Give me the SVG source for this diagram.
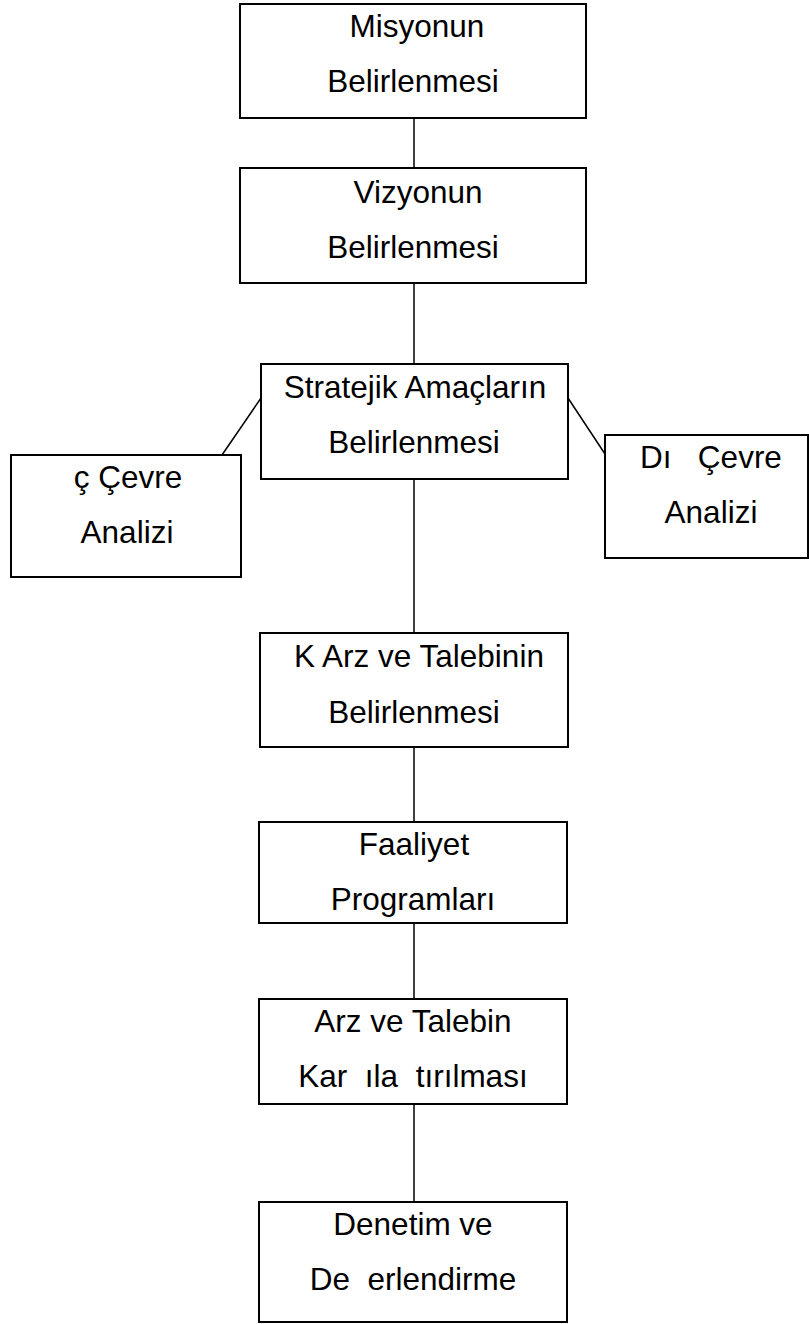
<svg xmlns="http://www.w3.org/2000/svg" width="809" height="1324" viewBox="0 0 809 1324">
<style>
.box{fill:#fff;stroke:#000;stroke-width:2}
.lbl{font-family:"Liberation Sans",Arial,sans-serif;font-size:31.5px;fill:#000;text-anchor:middle;white-space:pre}
.con line{stroke:#000;stroke-width:1.5}
</style>
<rect width="809" height="1324" fill="#fff"/>
<g id="connectors" class="con">
<line x1="414" y1="118" x2="414" y2="168"/>
<line x1="414" y1="283" x2="414" y2="364"/>
<line x1="414" y1="479" x2="414" y2="633"/>
<line x1="414" y1="747" x2="414" y2="822"/>
<line x1="414" y1="923" x2="414" y2="999"/>
<line x1="414" y1="1104" x2="414" y2="1202"/>
<line x1="261" y1="398" x2="222" y2="455"/>
<line x1="568" y1="398" x2="605" y2="454"/>
</g>
<g id="misyon">
<rect class="box" x="240" y="4" width="346" height="114"/>
<text class="lbl" x="417" y="37">Misyonun</text>
<text class="lbl" x="413" y="92">Belirlenmesi</text>
</g>
<g id="vizyon">
<rect class="box" x="240" y="168" width="346" height="115"/>
<text class="lbl" x="418" y="203">Vizyonun</text>
<text class="lbl" x="413" y="258">Belirlenmesi</text>
</g>
<g id="stratejik">
<rect class="box" x="261" y="364" width="307" height="115"/>
<text class="lbl" x="415" y="398">Stratejik Amaçların</text>
<text class="lbl" x="414" y="453">Belirlenmesi</text>
</g>
<g id="ic-cevre">
<rect class="box" x="11" y="455" width="230" height="122"/>
<text class="lbl" x="128" y="488">ç Çevre</text>
<text class="lbl" x="127" y="543">Analizi</text>
</g>
<g id="dis-cevre">
<rect class="box" x="605" y="435" width="203" height="123"/>
<text class="lbl" x="711" y="468">Dı   Çevre</text>
<text class="lbl" x="711" y="523">Analizi</text>
</g>
<g id="ik-arz">
<rect class="box" x="260" y="633" width="308" height="114"/>
<text class="lbl" x="419" y="667">K Arz ve Talebinin</text>
<text class="lbl" x="414" y="723">Belirlenmesi</text>
</g>
<g id="faaliyet">
<rect class="box" x="259" y="822" width="308" height="101"/>
<text class="lbl" x="414" y="855">Faaliyet</text>
<text class="lbl" x="413" y="910">Programları</text>
</g>
<g id="karsilastirma">
<rect class="box" x="259" y="999" width="308" height="105"/>
<text class="lbl" x="413" y="1032">Arz ve Talebin</text>
<text class="lbl" x="413" y="1087">Kar  ıla  tırılması</text>
</g>
<g id="denetim">
<rect class="box" x="259" y="1202" width="308" height="120"/>
<text class="lbl" x="413" y="1235">Denetim ve</text>
<text class="lbl" x="413" y="1290">De  erlendirme</text>
</g>
</svg>
